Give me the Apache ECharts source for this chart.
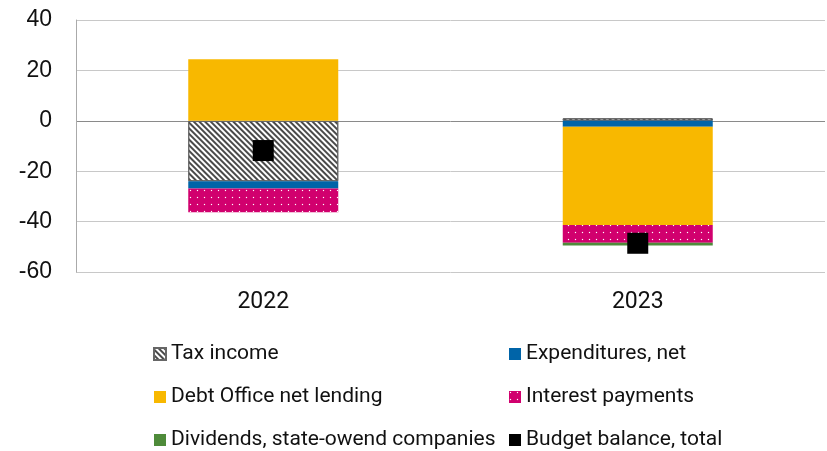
<!DOCTYPE html>
<html>
<head>
<meta charset="utf-8">
<script src="https://cdn.jsdelivr.net/npm/echarts@6/dist/echarts.min.js"></script>
<style>html,body{margin:0;padding:0;background:#fff}#c{width:827px;height:451px}</style>
</head>
<body>
<div id="c"></div>
<script>
const categories = ['2022', '2023'];
const taxIncome = [-24.0, 1.0];
const expenditures = [-2.9, -2.4];
const debtOffice = [24.4, -38.9];
const interest = [-9.4, -7.1];
const dividends = [0, -1.1];
const budgetBalance = [-11.8, -48.6];
const yTicks = { min: -60, max: 40, interval: 20 };

const chart = echarts.init(document.getElementById('c'));
const legendText = { fontFamily: 'Roboto', fontSize: 21, color: '#111', lineHeight: 22 };
const legendCommon = {
  orient: 'vertical', itemWidth: 12, itemHeight: 12, itemGap: 21, padding: 0, height: 108,
  textStyle: legendText, icon: 'rect', selectedMode: false
};
function bar(name, data, itemStyle) {
  return { name, type: 'bar', stack: 'total', data, barWidth: 150, itemStyle, z: 2 };
}
chart.setOption({
  animation: false,
  grid: { left: 76, right: 2, top: 20, bottom: 179 },
  legend: [
    Object.assign({ left: 153, top: 343, data: ['Tax income', 'Debt Office net lending', 'Dividends, state-owend companies'] }, legendCommon),
    Object.assign({ left: 509, top: 343, data: ['Expenditures, net', 'Interest payments', 'Budget balance, total'] }, legendCommon)
  ],
  xAxis: {
    type: 'category', data: categories,
    axisLine: { show: false, onZero: false }, axisTick: { show: false },
    axisLabel: { fontFamily: 'Roboto', fontSize: 23, color: '#111', margin: 19 }
  },
  yAxis: {
    type: 'value', min: yTicks.min, max: yTicks.max, interval: yTicks.interval,
    axisLine: { show: true, lineStyle: { color: '#aaa', width: 1 } },
    axisTick: { show: false },
    axisLabel: { fontFamily: 'Liberation Sans', fontSize: 23, color: '#111', margin: 24 },
    splitLine: { lineStyle: { color: ['#c8c8c8', '#c8c8c8', '#c8c8c8', '#8a8a8a', '#c8c8c8', '#c8c8c8'], width: 1 } }
  },
  series: [
    bar('Tax income', taxIncome, {
      color: '#ffffff', borderColor: '#666', borderWidth: 1,
      decal: { symbol: 'rect', color: '#4a4a4a', dashArrayX: [1, 0], dashArrayY: [1.5, 1.5], rotation: Math.PI / 4 }
    }),
    bar('Expenditures, net', expenditures, { color: '#0064A8' }),
    bar('Debt Office net lending', debtOffice, { color: '#F8B800' }),
    bar('Interest payments', interest, {
      color: '#D1006E',
      decal: { symbol: 'rect', color: '#ffffff', symbolSize: 0.4, dashArrayX: [3, 4], dashArrayY: [3, 4], rotation: 0 }
    }),
    bar('Dividends, state-owend companies', dividends, { color: '#4E8B3A' }),
    {
      name: 'Budget balance, total', type: 'scatter', data: budgetBalance,
      symbol: 'rect', symbolSize: 21, itemStyle: { color: '#000', opacity: 1 }, z: 5
    }
  ]
});
</script>
</body>
</html>
